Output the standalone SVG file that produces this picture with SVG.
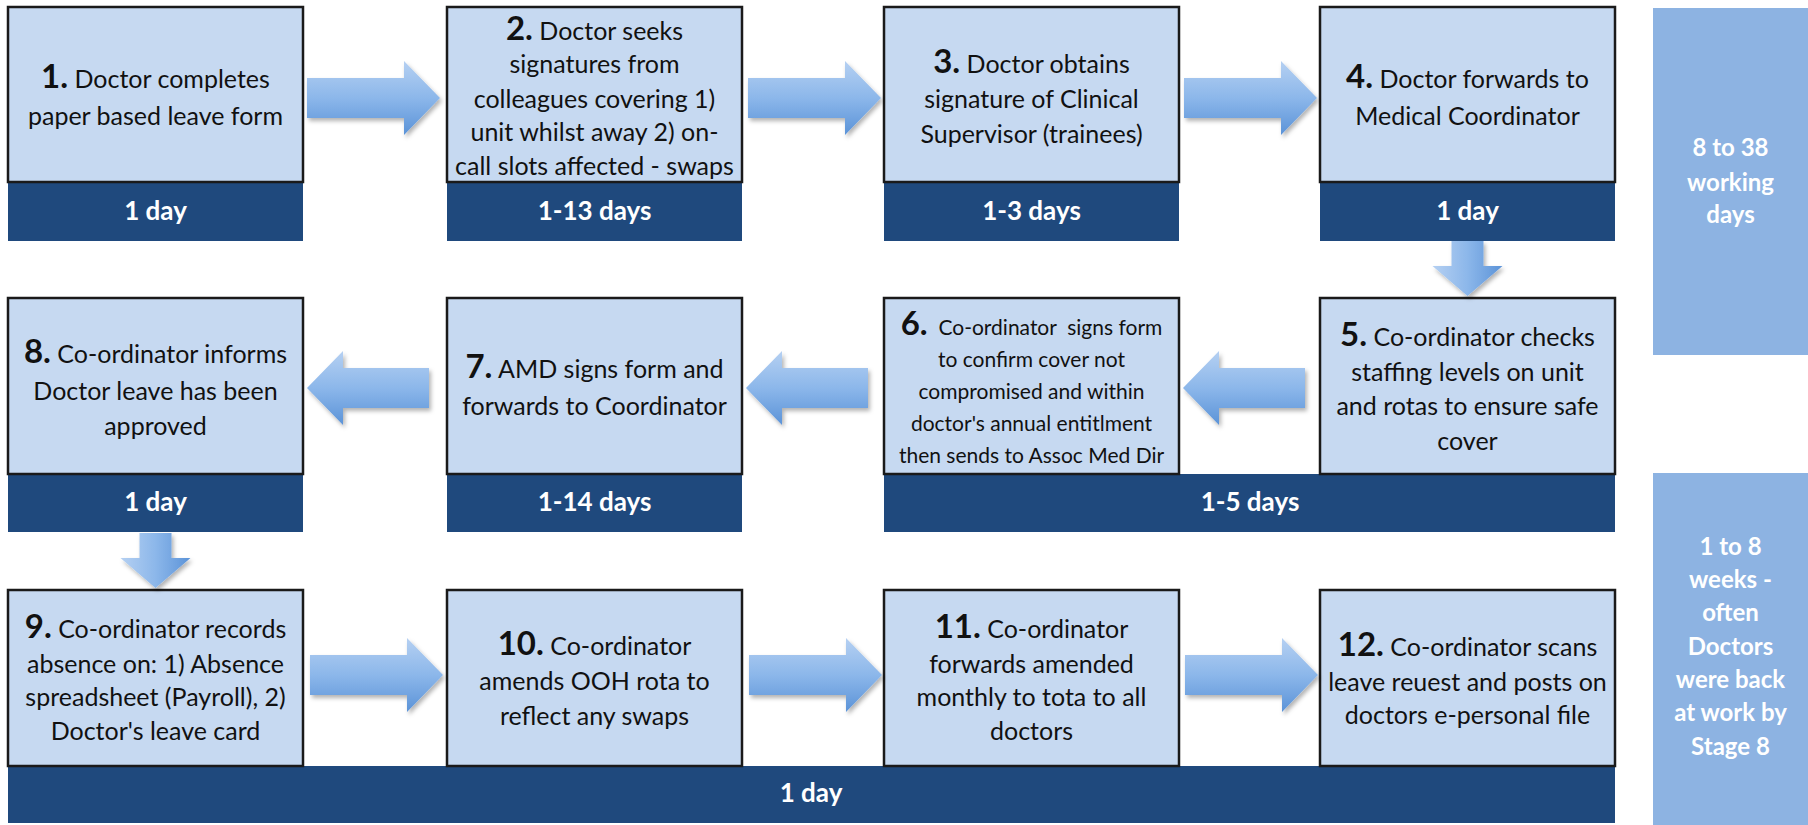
<svg xmlns="http://www.w3.org/2000/svg" xmlns:xlink="http://www.w3.org/1999/xlink" width="1808" height="825" viewBox="0 0 1808 825">
<defs>
<style>
.box{fill:#c6d9f1;stroke:#1a1a1a;stroke-width:2.5}
.band{fill:#1f497d}
.panel{fill:#8db3e2}
.t{font-family:Lato,"Liberation Sans",sans-serif;font-size:25px;fill:#111;text-anchor:middle}
.s{font-size:21px}
.n{font-weight:bold;font-size:33px}
.bt{font-family:Lato,"Liberation Sans",sans-serif;font-weight:bold;font-size:26px;fill:#fff;text-anchor:middle}
.pt{font-family:Lato,"Liberation Sans",sans-serif;font-weight:bold;font-size:24px;fill:#fff;text-anchor:middle}
.ah{fill:url(#gH);filter:url(#sh)}
.av{fill:url(#gV);filter:url(#sh)}
</style>
<linearGradient id="gH" x1="0" y1="0" x2="0" y2="1">
<stop offset="0" stop-color="#b5d0f2"/>
<stop offset="0.5" stop-color="#8cb7ea"/>
<stop offset="1" stop-color="#5b93d8"/>
</linearGradient>
<linearGradient id="gV" x1="0" y1="0" x2="1" y2="0">
<stop offset="0" stop-color="#b5d0f2"/>
<stop offset="0.5" stop-color="#8cb7ea"/>
<stop offset="1" stop-color="#5b93d8"/>
</linearGradient>
<filter id="sh" x="-20%" y="-20%" width="140%" height="150%">
<feDropShadow dx="2" dy="3" stdDeviation="2" flood-color="#000" flood-opacity="0.3"/>
</filter>
<path id="arrR" d="M0,-20 H97 V-37 L133,0 L97,37 V20 H0 Z"/>
<path id="arrL" d="M0,0 L36,-37 V-20 H122 V20 H36 V37 Z"/>
<path id="arrD" d="M-16,0 H16 V25 H35 L0,55 L-35,25 H-16 Z"/>
</defs>
<rect width="1808" height="825" fill="#fff"/>

<g id="panel1"><rect class="panel" x="1653" y="8" width="155" height="347"/>
<text class="pt" x="1730.5" y="156">8 to 38</text><text class="pt" x="1730.5" y="191">working</text><text class="pt" x="1730.5" y="223">days</text></g>
<g id="panel2"><rect class="panel" x="1653" y="473" width="155" height="352"/>
<text class="pt" x="1730.5" y="555">1 to 8</text><text class="pt" x="1730.5" y="588">weeks -</text><text class="pt" x="1730.5" y="621">often</text><text class="pt" x="1730.5" y="655">Doctors</text><text class="pt" x="1730.5" y="688">were back</text><text class="pt" x="1730.5" y="721">at work by</text><text class="pt" x="1730.5" y="755">Stage 8</text></g>

<g id="step1"><rect class="band" x="8" y="182" width="295" height="59"/><rect class="box" x="8" y="7" width="295" height="175"/>
<text class="t" x="155.5" y="88"><tspan class="n">1.</tspan> Doctor completes</text><text class="t" x="155.5" y="125">paper based leave form</text>
<text class="bt" x="155.5" y="220">1 day</text></g>

<g id="step2"><rect class="band" x="447" y="182" width="295" height="59"/><rect class="box" x="447" y="7" width="295" height="175"/>
<text class="t" x="594.5" y="40"><tspan class="n">2.</tspan> Doctor seeks</text><text class="t" x="594.5" y="73">signatures from</text><text class="t" x="594.5" y="108">colleagues covering 1)</text><text class="t" x="594.5" y="141">unit whilst away 2) on-</text><text class="t" x="594.5" y="175">call slots affected - swaps</text>
<text class="bt" x="594.5" y="220">1-13 days</text></g>

<g id="step3"><rect class="band" x="884" y="182" width="295" height="59"/><rect class="box" x="884" y="7" width="295" height="175"/>
<text class="t" x="1031.5" y="73"><tspan class="n">3.</tspan> Doctor obtains</text><text class="t" x="1031.5" y="108">signature of Clinical</text><text class="t" x="1031.5" y="143">Supervisor (trainees)</text>
<text class="bt" x="1031.5" y="220">1-3 days</text></g>

<g id="step4"><rect class="band" x="1320" y="182" width="295" height="59"/><rect class="box" x="1320" y="7" width="295" height="175"/>
<text class="t" x="1467.5" y="88"><tspan class="n">4.</tspan> Doctor forwards to</text><text class="t" x="1467.5" y="125">Medical Coordinator</text>
<text class="bt" x="1467.5" y="220">1 day</text></g>

<g id="step8"><rect class="band" x="8" y="474" width="295" height="58"/><rect class="box" x="8" y="298" width="295" height="176"/>
<text class="t" x="155.5" y="363"><tspan class="n">8.</tspan> Co-ordinator informs</text><text class="t" x="155.5" y="400">Doctor leave has been</text><text class="t" x="155.5" y="435">approved</text>
<text class="bt" x="155.5" y="511">1 day</text></g>

<g id="step7"><rect class="band" x="447" y="474" width="295" height="58"/><rect class="box" x="447" y="298" width="295" height="176"/>
<text class="t" x="594.5" y="378"><tspan class="n">7.</tspan> AMD signs form and</text><text class="t" x="594.5" y="415">forwards to Coordinator</text>
<text class="bt" x="594.5" y="511">1-14 days</text></g>

<g id="band-5-6"><rect class="band" x="884" y="474" width="731" height="58"/><text class="bt" x="1250" y="511">1-5 days</text></g>

<g id="step6"><rect class="box" x="884" y="298" width="295" height="176"/>
<text class="t s" x="1031.5" y="335" xml:space="preserve"><tspan class="n">6.</tspan>  Co-ordinator  signs form</text><text class="t s" x="1031.5" y="367">to confirm cover not</text><text class="t s" x="1031.5" y="399">compromised and within</text><text class="t s" x="1031.5" y="431">doctor's annual entitlment</text><text class="t s" x="1031.5" y="463">then sends to Assoc Med Dir</text></g>

<g id="step5"><rect class="box" x="1320" y="298" width="295" height="176"/>
<text class="t" x="1467.5" y="346"><tspan class="n">5.</tspan> Co-ordinator checks</text><text class="t" x="1467.5" y="381">staffing levels on unit</text><text class="t" x="1467.5" y="415">and rotas to ensure safe</text><text class="t" x="1467.5" y="450">cover</text></g>

<g id="band-9-12"><rect class="band" x="8" y="766" width="1607" height="57"/><text class="bt" x="811" y="802">1 day</text></g>

<g id="step9"><rect class="box" x="8" y="590" width="295" height="176"/>
<text class="t" x="155.5" y="638"><tspan class="n">9.</tspan> Co-ordinator records</text><text class="t" x="155.5" y="673">absence on: 1) Absence</text><text class="t" x="155.5" y="706">spreadsheet (Payroll), 2)</text><text class="t" x="155.5" y="740">Doctor's leave card</text></g>

<g id="step10"><rect class="box" x="447" y="590" width="295" height="176"/>
<text class="t" x="594.5" y="655"><tspan class="n">10.</tspan> Co-ordinator</text><text class="t" x="594.5" y="690">amends OOH rota to</text><text class="t" x="594.5" y="725">reflect any swaps</text></g>

<g id="step11"><rect class="box" x="884" y="590" width="295" height="176"/>
<text class="t" x="1031.5" y="638"><tspan class="n">11.</tspan> Co-ordinator</text><text class="t" x="1031.5" y="673">forwards amended</text><text class="t" x="1031.5" y="706">monthly to tota to all</text><text class="t" x="1031.5" y="740">doctors</text></g>

<g id="step12"><rect class="box" x="1320" y="590" width="295" height="176"/>
<text class="t" x="1467.5" y="656"><tspan class="n">12.</tspan> Co-ordinator scans</text><text class="t" x="1467.5" y="691">leave reuest and posts on</text><text class="t" x="1467.5" y="724">doctors e-personal file</text></g>

<g id="connectors">
<use xlink:href="#arrR" href="#arrR" class="ah" x="307" y="98"/>
<use xlink:href="#arrR" href="#arrR" class="ah" x="748" y="98"/>
<use xlink:href="#arrR" href="#arrR" class="ah" x="1184" y="98"/>
<use xlink:href="#arrD" href="#arrD" class="av" x="1467.5" y="241"/>
<use xlink:href="#arrL" href="#arrL" class="ah" x="1183" y="388"/>
<use xlink:href="#arrL" href="#arrL" class="ah" x="746" y="388"/>
<use xlink:href="#arrL" href="#arrL" class="ah" x="307" y="388"/>
<use xlink:href="#arrD" href="#arrD" class="av" x="155.5" y="533"/>
<use xlink:href="#arrR" href="#arrR" class="ah" x="310" y="675"/>
<use xlink:href="#arrR" href="#arrR" class="ah" x="749" y="675"/>
<use xlink:href="#arrR" href="#arrR" class="ah" x="1185" y="675"/>
</g>
</svg>
